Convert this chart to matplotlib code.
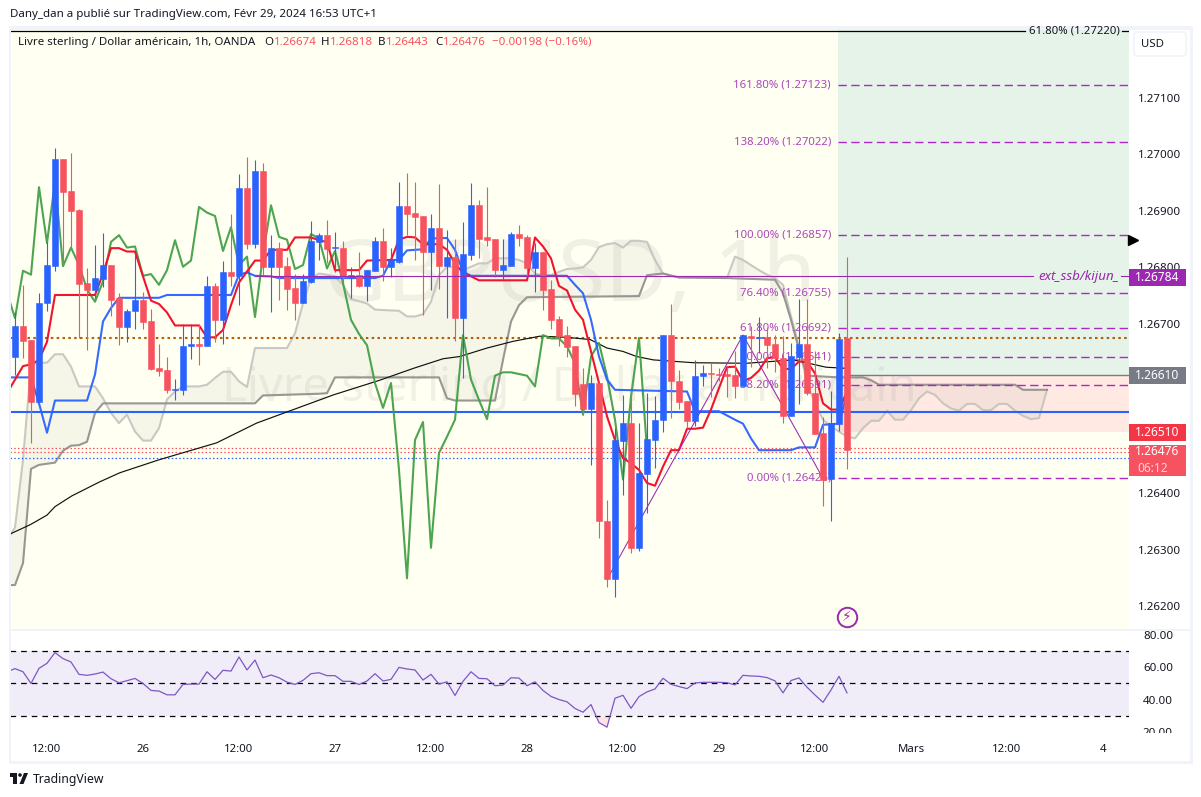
import numpy as np
import matplotlib
matplotlib.use("Agg")
import matplotlib.pyplot as plt
from matplotlib.patches import Rectangle, Circle, Polygon, FancyBboxPatch
from matplotlib.transforms import Bbox, TransformedBbox

W, H = 1201, 797
FONT = "Noto Sans"
plt.rcParams['font.family'] = [FONT, 'DejaVu Sans']

# candles, one value per bar (1h)
opens = [1.26642,1.26696,1.26671,1.26561,1.26736,1.26803,1.26992,1.26935,1.26902,1.26772,
         1.26760,1.26779,1.26804,1.26745,1.26695,1.26722,1.26742,1.26705,1.26622,1.26618,
         1.26583,1.26583,1.26660,1.26665,1.26661,1.26767,1.26707,1.26792,1.26785,1.26940,
         1.26841,1.26970,1.26801,1.26834,1.26802,1.26763,1.26737,1.26774,1.26845,1.26857,
         1.26835,1.26835,1.26782,1.26786,1.26767,1.26794,1.26847,1.26800,1.26810,1.26908,
         1.26897,1.26891,1.26828,1.26869,1.26802,1.26818,1.26711,1.26822,1.26910,1.26853,
         1.26850,1.26795,1.26802,1.26859,1.26854,1.26798,1.26828,1.26761,1.26709,1.26680,
         1.26661,1.26593,1.26549,1.26595,1.26351,1.26247,1.26493,1.26525,1.26302,1.26434,
         1.26494,1.26529,1.26680,1.26599,1.26563,1.26528,1.26607,1.26612,1.26611,1.26611,
         1.26609,1.26589,1.26679,1.26674,1.26676,1.26664,1.26640,1.26536,1.26642,1.26664,
         1.26578,1.26506,1.26425,1.26523,1.26674]
highs = [1.26720,1.26769,1.26671,1.26754,1.26845,1.27012,1.26992,1.27002,1.26904,1.26798,
         1.26840,1.26860,1.26804,1.26754,1.26727,1.26825,1.26757,1.26726,1.26665,1.26641,
         1.26603,1.26699,1.26699,1.26699,1.26785,1.26772,1.26811,1.26894,1.26966,1.26995,
         1.26990,1.26984,1.26857,1.26845,1.26819,1.26788,1.26789,1.26882,1.26860,1.26884,
         1.26862,1.26846,1.26800,1.26827,1.26795,1.26853,1.26869,1.26835,1.26951,1.26967,
         1.26951,1.26891,1.26895,1.26948,1.26866,1.26851,1.26881,1.26949,1.26919,1.26942,
         1.26850,1.26851,1.26862,1.26875,1.26857,1.26843,1.26828,1.26778,1.26713,1.26696,
         1.26661,1.26622,1.26610,1.26595,1.26388,1.26515,1.26574,1.26580,1.26524,1.26577,
         1.26572,1.26680,1.26735,1.26618,1.26563,1.26636,1.26627,1.26630,1.26621,1.26624,
         1.26651,1.26680,1.26696,1.26712,1.26695,1.26680,1.26679,1.26666,1.26744,1.26744,
         1.26651,1.26535,1.26581,1.26683,1.26818]
lows = [1.26609,1.26639,1.26489,1.26561,1.26723,1.26794,1.26804,1.26834,1.26674,1.26653,
        1.26745,1.26766,1.26713,1.26662,1.26667,1.26691,1.26691,1.26618,1.26608,1.26578,
        1.26565,1.26574,1.26638,1.26627,1.26660,1.26667,1.26665,1.26767,1.26733,1.26833,
        1.26835,1.26786,1.26720,1.26742,1.26724,1.26707,1.26737,1.26773,1.26813,1.26807,
        1.26792,1.26772,1.26745,1.26765,1.26740,1.26793,1.26776,1.26782,1.26808,1.26857,
        1.26813,1.26716,1.26759,1.26761,1.26711,1.26669,1.26604,1.26813,1.26816,1.26837,
        1.26782,1.26780,1.26802,1.26838,1.26784,1.26757,1.26725,1.26691,1.26660,1.26642,
        1.26555,1.26538,1.26449,1.26320,1.26234,1.26216,1.26396,1.26294,1.26297,1.26365,
        1.26444,1.26509,1.26533,1.26549,1.26515,1.26518,1.26589,1.26571,1.26598,1.26571,
        1.26568,1.26589,1.26624,1.26648,1.26621,1.26614,1.26525,1.26536,1.26558,1.26574,
        1.26505,1.26378,1.26350,1.26510,1.26443]
closes = [1.26696,1.26670,1.26561,1.26736,1.26804,1.26992,1.26934,1.26900,1.26771,1.26760,
          1.26781,1.26804,1.26742,1.26695,1.26723,1.26742,1.26704,1.26620,1.26617,1.26583,
          1.26585,1.26661,1.26665,1.26661,1.26767,1.26707,1.26792,1.26785,1.26940,1.26841,
          1.26970,1.26801,1.26834,1.26801,1.26762,1.26737,1.26776,1.26846,1.26857,1.26832,
          1.26836,1.26783,1.26786,1.26767,1.26795,1.26846,1.26800,1.26813,1.26908,1.26895,
          1.26890,1.26828,1.26869,1.26802,1.26818,1.26711,1.26824,1.26910,1.26851,1.26849,
          1.26795,1.26804,1.26859,1.26852,1.26798,1.26828,1.26760,1.26707,1.26679,1.26659,
          1.26575,1.26549,1.26595,1.26350,1.26247,1.26494,1.26525,1.26302,1.26435,1.26496,
          1.26530,1.26680,1.26598,1.26562,1.26528,1.26608,1.26612,1.26611,1.26609,1.26608,
          1.26589,1.26680,1.26674,1.26676,1.26663,1.26639,1.26536,1.26643,1.26664,1.26577,
          1.26505,1.26424,1.26524,1.26673,1.26476]

# ichimoku lines, as bar index / price pairs
tenkan_k = [-1,1,2,3,4,5,10,11,12,13,14,15,16,17,18,19,20,23,24,25,26,27,28,30,31,32,34,35,37,38,39,40,43,44,47,
            48,49,50,51,53,54,55,56,57,58,64,65,66,67,68,69,70,71,72,73,74,75,76,77,78,79,80,81,82,83,84,85,86,
            87,88,89,90,91,92,93,94,95,96,97,98,99,100,101,102,103,104]
tenkan_v = [1.26577,1.26625,1.26628,1.26636,1.26668,1.26751,1.26751,1.26789,1.26834,1.26834,1.26828,1.26828,
            1.26784,1.26741,1.26735,1.26720,1.26697,1.26697,1.26676,1.26676,1.26689,1.26733,1.26773,1.26812,
            1.26812,1.26831,1.26831,1.26853,1.26853,1.26848,1.26845,1.26795,1.26795,1.26812,1.26813,
            1.26849,1.26854,1.26853,1.26841,1.26841,1.26831,1.26807,1.26790,1.26784,1.26777,1.26777,1.26853,
            1.26837,1.26816,1.26767,1.26759,1.26725,1.26707,1.26651,1.26595,1.26536,1.26494,1.26462,1.26453,
            1.26441,1.26418,1.26413,1.26447,1.26476,1.26476,1.26514,1.26514,1.26516,1.26548,1.26586,1.26623,
            1.26624,1.26599,1.26604,1.26617,1.26639,1.26641,1.26620,1.26620,1.26633,1.26633,1.26612,1.26559,
            1.26548,1.26548,1.26580]
kijun_k = [-1,2,3,4,5,9,10,11,12,13,18,19,27,28,29,30,32,33,45,46,47,48,49,51,52,54,55,56,57,69,70,71,72,73,74,75,
           84,85,88,90,91,92,93,97,98,100,101,103,104]
kijun_v = [1.26605,1.26605,1.26559,1.26507,1.26564,1.26564,1.26610,1.26704,1.26728,1.26746,1.26746,1.26751,
           1.26751,1.26787,1.26791,1.26785,1.26784,1.26781,1.26781,1.26785,1.26813,1.26813,1.26830,1.26832,
           1.26851,1.26852,1.26831,1.26792,1.26785,1.26785,1.26769,1.26754,1.26707,1.26642,1.26601,1.26583,
           1.26580,1.26545,1.26545,1.26530,1.26523,1.26497,1.26476,1.26476,1.26481,1.26481,1.26521,1.26523,1.26577]
chikou = [1.26755,1.26710,1.26794,1.26787,1.26942,1.26843,1.26952,1.26802,1.26835,1.26804,1.26761,1.26739,
          1.26775,1.26845,1.26857,1.26835,1.26837,1.26785,1.26788,1.26769,1.26795,1.26848,1.26801,1.26812,
          1.26907,1.26897,1.26891,1.26829,1.26871,1.26804,1.26819,1.26712,1.26822,1.26910,1.26854,1.26849,
          1.26797,1.26804,1.26859,1.26851,1.26798,1.26829,1.26772,1.26707,1.26682,1.26662,1.26595,1.26551,
          1.26595,1.26441,1.26249,1.26494,1.26526,1.26303,1.26471,1.26500,1.26530,1.26680,1.26601,1.26565,
          1.26531,1.26608,1.26614,1.26614,1.26611,1.26608,1.26589,1.26680,1.26674,1.26674,1.26660,1.26630,
          1.26539,1.26642,1.26666,1.26607,1.26530,1.26424,1.26571,1.26675,1.26476]
span_a_k = [-1,0,1,2,3,4,5,6,7,8,10,11,12,13,14,15,16,17,18,19,20,21,23,24,25,26,27,28,29,30,34,35,36,37,38,39,40,
            41,42,43,44,45,48,49,50,51,52,53,54,55,56,57,58,59,60,62,63,64,65,66,67,68,69,70,71,72,73,74,75,76,77,
            78,79,80,81,82,83,89,90,91,92,93,94,95,96,97,98,99,100,101,102,103,104,105,106,107,108,109,110,111,
            112,113,114,115,116,117,118,119,120,121,122,123,124,125,126,127,128,129]
span_a_v = [1.26317,1.26339,1.26459,1.26627,1.26631,1.26631,1.26646,1.26646,1.26624,1.26589,1.26589,1.26568,
            1.26542,1.26524,1.26539,1.26509,1.26493,1.26493,1.26515,1.26566,1.26580,1.26589,1.26589,1.26592,
            1.26604,1.26615,1.26615,1.26598,1.26588,1.26657,1.26657,1.26683,1.26736,1.26781,1.26789,1.26787,
            1.26784,1.26769,1.26744,1.26740,1.26736,1.26725,1.26723,1.26713,1.26713,1.26717,1.26739,1.26786,
            1.26801,1.26800,1.26795,1.26801,1.26807,1.26807,1.26816,1.26816,1.26813,1.26807,1.26789,1.26786,
            1.26786,1.26792,1.26797,1.26798,1.26800,1.26813,1.26836,1.26841,1.26843,1.26835,1.26847,1.26847,
            1.26845,1.26813,1.26789,1.26785,1.26782,1.26781,1.26819,1.26813,1.26804,1.26795,1.26787,1.26781,
            1.26769,1.26713,1.26660,1.26595,1.26559,1.26530,1.26518,1.26509,1.26500,1.26497,1.26515,1.26528,
            1.26528,1.26546,1.26530,1.26530,1.26547,1.26568,1.26580,1.26574,1.26559,1.26550,1.26546,1.26558,
            1.26558,1.26547,1.26547,1.26558,1.26558,1.26546,1.26537,1.26531,1.26533,1.26583]
span_b_k = [-1,0,1,2,3,4,5,6,7,8,9,10,11,30,31,38,39,40,53,54,55,60,61,62,63,64,78,79,81,83,89,95,96,97,98,99,103,
            106,107,108,125,126,129]
span_b_v = [1.26237,1.26237,1.26276,1.26443,1.26450,1.26452,1.26454,1.26475,1.26484,1.26485,1.26491,1.26542,
            1.26559,1.26559,1.26573,1.26576,1.26577,1.26605,1.26605,1.26568,1.26564,1.26564,1.26636,1.26704,
            1.26733,1.26747,1.26749,1.26786,1.26789,1.26782,1.26781,1.26778,1.26754,1.26707,1.26654,1.26608,
            1.26605,1.26605,1.26600,1.26592,1.26592,1.26583,1.26583]
ma_k = [-1,1.9,4,5,7.1,10.6,13.1,18,25.2,30.2,39.8,45.6,49.8,53.5,55.6,59,62.3,65.6,69,71.9,74,76,77.7,79.8,84.8,
        91.4,97.3,101.4,104]
ma_v = [1.26325,1.26344,1.26361,1.26376,1.26395,1.26420,1.26436,1.26459,1.26489,1.26524,1.26574,1.26600,1.26621,
        1.26638,1.26642,1.26657,1.26669,1.26678,1.26676,1.26672,1.26657,1.26651,1.26642,1.26636,1.26631,
        1.26630,1.26636,1.26623,1.26621]

rsi = [57.2,59.1,57.2,50.0,59.3,62.4,69.0,65.3,63.2,55.6,55.0,55.8,57.0,52.9,50.4,51.7,53.1,50.0,45.7,45.3,43.0,43.0,
       49.4,49.6,49.6,57.2,52.5,58.1,57.6,66.3,58.3,64.4,53.5,55.2,53.5,50.8,49.4,51.9,56.0,56.6,54.8,54.8,51.3,51.3,
       49.4,51.5,56.0,51.5,52.5,59.9,58.9,58.3,52.1,55.6,49.6,51.0,42.6,51.3,57.2,53.1,52.9,48.6,49.0,53.5,53.3,48.6,
       51.0,45.7,42.0,40.1,38.7,34.6,32.3,37.0,25.9,23.1,40.9,42.7,34.7,41.9,44.8,46.6,53.2,49.5,48.1,46.8,50.3,50.7,
       50.7,50.7,50.5,49.1,55.0,54.6,54.4,53.6,51.6,44.2,51.8,53.4,47.7,42.9,38.4,46.0,54.4,44.2]

fib_levels = [1.27123, 1.27022, 1.26857, 1.26755, 1.26692, 1.26641, 1.26591, 1.26426]
fib_names = ["161.80%", "138.20%", "100.00%", "76.40%", "61.80%", "50.00%", "38.20%", "0.00%"]
zigzag_k = [74, 91, 101]
zigzag_v = [1.26247, 1.26680, 1.26426]

price_ticks = [1.262, 1.263, 1.264, 1.265, 1.266, 1.267, 1.268, 1.269, 1.270, 1.271]
time_ticks = [4, 16, 28, 40, 52, 64, 76, 88, 100, 112, 124, 136]
time_labels = ["12:00", "26", "12:00", "27", "12:00", "28", "12:00", "29", "12:00", "Mars", "12:00", "4"]
rsi_ticks = [20, 40, 60, 80]

UP, DOWN = "#2962ff", "#f7525f"
PURPLE = "#9c27b0"
FIB = "#ab27c8"
INK = "#131722"
CREAM = "#fffff2"
BAND = "#f0f3fa"

fig = plt.figure(figsize=(W / 100, H / 100), dpi=100, facecolor="white")


def frac(x0, y0, x1, y1):
    # pixel box (top-left origin) to figure fractions
    return [x0 / W, 1 - y1 / H, (x1 - x0) / W, (y1 - y0) / H]


ax = fig.add_axes(frac(10, 30, 1129, 629), facecolor=CREAM)
ax.set_xlim(-0.625, 139.25)
ax.set_ylim(1.261592, 1.272205)
for s in ax.spines.values():
    s.set_visible(False)
ax.yaxis.tick_right()
ax.set_yticks(price_ticks, ["%.5f" % p for p in price_ticks])
ax.tick_params(axis="y", length=0, pad=6.5, labelsize=8.3, labelcolor=INK)
ax.set_xticks([])

zone_left = 102.9
ax.add_patch(Rectangle((zone_left, 1.26610), 40, 0.02, fc="#e6f3e9", ec="none", zorder=1))
ax.add_patch(Rectangle((zone_left, 1.26508), 40, 0.00102, fc="#ffe9e2", ec="none", zorder=1))

wm = dict(transform=ax.transAxes, ha="center", va="center", color="#787878", alpha=0.11, zorder=1.5)
ax.text(0.5, 0.584, "GBPUSD, 1h", fontsize=62, **wm)
ax.text(0.5, 0.402, "Livre sterling / Dollar américain", fontsize=34, **wm)

# cloud
cloud_x = np.arange(-1, 130)
a_line = np.interp(cloud_x, span_a_k, span_a_v)
b_line = np.interp(cloud_x, span_b_k, span_b_v)
ax.fill_between(cloud_x, a_line, b_line, color="#7f7f70", alpha=0.07, lw=0, zorder=2)
ax.plot(span_a_k, span_a_v, color="#c4c3bf", lw=1.5, alpha=0.9, zorder=2.1)
ax.plot(span_b_k, span_b_v, color="#8e8d89", lw=1.5, alpha=0.9, zorder=2.1)

# levels
ax.axhline(1.26544, color="#2962ff", lw=1.5, zorder=2.2)
ax.axhline(1.26675, color="#b45f06", lw=1.5, ls=(0, (1.2, 1.6)), zorder=2.2)
ax.axhline(1.26480, color="#f7525f", lw=0.9, ls=(0, (1.2, 1.8)), zorder=2.2)
ax.axhline(1.26473, color="#f7525f", lw=0.9, ls=(0, (1.2, 1.8)), zorder=2.2)
ax.axhline(1.26463, color="#2962ff", lw=0.9, ls=(0, (1.2, 1.8)), zorder=2.2)

ax.plot(ma_k, ma_v, color="#111111", lw=0.85, zorder=2.5)
ax.plot(np.arange(-1, 80), chikou, color="#43a047", lw=1.5, alpha=0.95, zorder=2.6)
ax.plot(kijun_k, kijun_v, color="#2962ff", lw=1.5, alpha=0.95, zorder=2.7)
ax.plot(tenkan_k, tenkan_v, color="#f2132c", lw=1.5, zorder=2.8)

# fib tool, labels sit under the candles
ax.plot(zigzag_k, zigzag_v, color=PURPLE, lw=0.75, zorder=2.9)
for lvl, name in zip(fib_levels, fib_names):
    ax.plot([zone_left, 140], [lvl, lvl], color=FIB, lw=1.0, ls=(0, (6, 3.2)), zorder=3)
    ax.text(102, lvl, "%s (%.5f)" % (name, lvl), color="#ab47bc", fontsize=8.2, ha="right", va="center", zorder=3)

ax.plot([-1, 126.25], [1.27218, 1.27218], color="black", lw=0.9, zorder=3)
ax.plot([138.4, 140], [1.27218, 1.27218], color="black", lw=0.9, zorder=3)

ax.plot([30, 127.2], [1.26784, 1.26784], color=PURPLE, lw=0.8, zorder=6)
ax.plot([138.2, 140], [1.26784, 1.26784], color=PURPLE, lw=0.8, zorder=6)
ax.text(127.9, 1.26784, "ext_ssb/kijun_", color=PURPLE, fontsize=9.6, style="italic", weight="semibold",
        ha="left", va="center", zorder=6)
ax.plot([104, 140], [1.26610, 1.26610], color="#787b86", lw=1.0, zorder=3)

# candles
k = np.arange(len(opens))
o, h, l, c = map(np.array, (opens, highs, lows, closes))
colors = [UP if cc > oo else DOWN for oo, cc in zip(o, c)]
wicks = ax.vlines(k, l, h, colors=colors, lw=0.8, zorder=4)
wicks.set_snap(True)
ax.bar(k, np.abs(c - o), bottom=np.minimum(o, c), width=0.68, color=colors, edgecolor=colors, lw=0.4, zorder=4.1)

# marker and alert
ax.plot(104, 1.26180, "o", ms=14, mfc="none", mec=PURPLE, mew=1.4, zorder=6)
ax.text(104, 1.26180, "\u26a1", color=PURPLE, fontsize=10, ha="center", va="center", family="DejaVu Sans", zorder=6)
ax.plot([1.004], [1.26849], ">", ms=7, color="black", transform=ax.get_yaxis_transform(), clip_on=False, zorder=6)


def tag(ax_, price, text, color, height=0.00030):
    tr = ax_.get_yaxis_transform()
    ax_.add_patch(Rectangle((1.0, price - height / 2), 57 / 1119, height, fc=color, ec="none",
                            transform=tr, clip_on=False, zorder=8))
    ax_.text(1.0 + 28 / 1119, price, text, color="white", fontsize=8.6, weight="bold", ha="center", va="center",
             transform=tr, zorder=9)


tag(ax, 1.26782, "1.26784", PURPLE)
tag(ax, 1.26608, "1.26610", "#787b86")
tag(ax, 1.26508, "1.26510", "#f23645")
tag(ax, 1.26457, "", DOWN, height=0.00055)
tr = ax.get_yaxis_transform()
ax.text(1.0 + 28 / 1119, 1.26473, "1.26476", color="white", fontsize=8.6, weight="bold", ha="center", va="center",
        transform=tr, zorder=9)
ax.text(1.0 + 24 / 1119, 1.26444, "06:12", color="#ffd0d4", fontsize=8.6, ha="center", va="center",
        transform=tr, zorder=9)

# rsi pane
rx = fig.add_axes(frac(10, 630, 1129, 733), facecolor="white")
rx.set_xlim(ax.get_xlim())
rx.set_ylim(19.5, 82.9)
for s in rx.spines.values():
    s.set_visible(False)
rx.axhspan(30, 70, fc="#f0edf9", ec="none", zorder=1)
for lv in (30, 50, 70):
    rx.axhline(lv, color="black", lw=0.9, ls=(0, (4.5, 4)), zorder=2)
rsi_x = np.arange(-1, 105)
rsi_arr = np.array(rsi)
rx.fill_between(rsi_x, rsi_arr, 30, where=rsi_arr < 30, interpolate=True, color="#fde4e4", lw=0, zorder=1.5)
rx.plot(rsi_x, rsi, color="#7e57c2", lw=0.9, zorder=3)
rx.yaxis.tick_right()
rx.set_yticks(rsi_ticks, ["%.2f" % v for v in rsi_ticks])
rx.tick_params(axis="y", length=0, pad=10, labelsize=8.3, labelcolor=INK)
rx.set_xticks(time_ticks, time_labels)
rx.tick_params(axis="x", length=0, pad=8, labelsize=8.2, labelcolor=INK)
clip = TransformedBbox(Bbox([[1.0, 0.0], [1.06, 1.0]]), rx.transAxes)
for lab in rx.get_yticklabels():
    lab.set_clip_box(clip)
    lab.set_clip_on(True)

# chrome drawn in pixels over everything
ov = fig.add_axes([0, 0, 1, 1], zorder=5)
ov.set_xlim(0, W)
ov.set_ylim(H, 0)
ov.axis("off")
for x0, y0, x1, y1 in [(8.5, 26, 11, 763), (1190, 26, 1193, 763), (8.5, 26, 1193, 30), (8.5, 761, 1193, 763.5),
                       (10, 629, 1190, 630.5)]:
    ov.add_patch(Rectangle((x0, y0), x1 - x0, y1 - y0, fc=BAND, ec="none"))
ov.add_patch(FancyBboxPatch((1134, 32), 52, 24, boxstyle="round,pad=0,rounding_size=3", fc="white", ec=BAND, lw=1.2))
ov.text(1152, 44.5, "USD", color=INK, fontsize=8.2, ha="center", va="center")
ov.text(1120, 31.3, "61.80% (1.27220)", color=INK, fontsize=8.2, ha="right", va="center")
ov.text(10, 14, "Dany_dan a publié sur TradingView.com, Févr 29, 2024 16:53 UTC+1", color=INK, fontsize=8.3,
        ha="left", va="center")
ov.text(18.5, 42, "Livre sterling / Dollar américain, 1h, OANDA", color=INK, fontsize=8.3, ha="left", va="center")
for x, s, col in [(264, "O", INK), (273.5, "1.26674", DOWN), (321, "H", INK), (330, "1.26818", DOWN),
                  (378, "B", INK), (386, "1.26443", DOWN), (435, "C", INK), (443, "1.26476", DOWN),
                  (492, "\u22120.00198 (\u22120.16%)", DOWN)]:
    ov.text(x, 42, s, color=col, fontsize=8.3, ha="left", va="center")

# logo
ov.add_patch(Rectangle((10, 773), 7, 3.5, fc=INK, ec="none"))
ov.add_patch(Rectangle((13.2, 773), 3.8, 11, fc=INK, ec="none"))
ov.add_patch(Circle((20, 775), 1.8, fc=INK, ec="none"))
ov.add_patch(Polygon([(24, 773), (28, 773), (23.5, 784), (19.5, 784)], fc=INK, ec="none"))
ov.text(33, 779, "TradingView", color=INK, fontsize=8.8, ha="left", va="center")

fig.savefig("out.png", dpi=100)
